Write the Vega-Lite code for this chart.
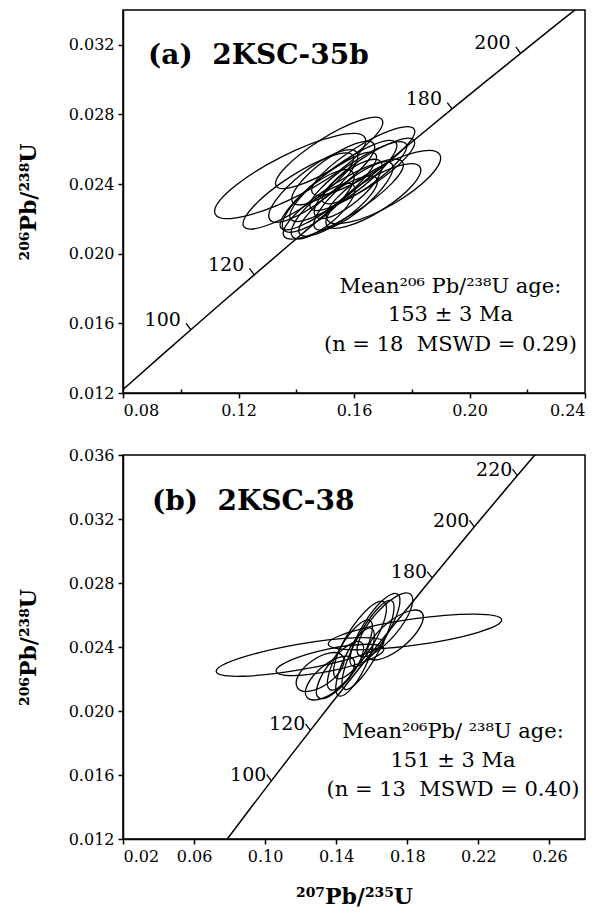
{
  "$schema": "https://vega.github.io/schema/vega-lite/v6.json",
  "background": "white",
  "padding": {"left": 16, "top": 9, "right": 0, "bottom": 0},
  "spacing": 27,
  "config": {
    "font": "DejaVu Serif",
    "view": {"stroke": "black", "strokeWidth": 1.5},
    "axis": {
      "grid": false,
      "domainColor": "black",
      "domainWidth": 1.5,
      "tickColor": "black",
      "tickWidth": 1.5,
      "labelFont": "DejaVu Serif",
      "labelFontSize": 16,
      "labelColor": "black",
      "labelPadding": 4,
      "titleFont": "DejaVu Serif",
      "titleFontWeight": "bold",
      "titleFontSize": 22,
      "titleColor": "black"
    }
  },
  "datasets": {
    "concordia": [
      {"age": 70, "pb207u235": 0.071371, "pb206u238": 0.010918},
      {"age": 80, "pb207u235": 0.081975, "pb206u238": 0.012487},
      {"age": 90, "pb207u235": 0.092683, "pb206u238": 0.014059},
      {"age": 100, "pb207u235": 0.103497, "pb206u238": 0.015633},
      {"age": 110, "pb207u235": 0.114419, "pb206u238": 0.017210},
      {"age": 120, "pb207u235": 0.125449, "pb206u238": 0.018789},
      {"age": 130, "pb207u235": 0.136588, "pb206u238": 0.020371},
      {"age": 140, "pb207u235": 0.147837, "pb206u238": 0.021955},
      {"age": 150, "pb207u235": 0.159197, "pb206u238": 0.023542},
      {"age": 160, "pb207u235": 0.170670, "pb206u238": 0.025131},
      {"age": 170, "pb207u235": 0.182256, "pb206u238": 0.026722},
      {"age": 180, "pb207u235": 0.193957, "pb206u238": 0.028316},
      {"age": 190, "pb207u235": 0.205774, "pb206u238": 0.029912},
      {"age": 200, "pb207u235": 0.217707, "pb206u238": 0.031511},
      {"age": 210, "pb207u235": 0.229759, "pb206u238": 0.033112},
      {"age": 220, "pb207u235": 0.241930, "pb206u238": 0.034717},
      {"age": 230, "pb207u235": 0.254222, "pb206u238": 0.036323},
      {"age": 240, "pb207u235": 0.266635, "pb206u238": 0.037932}
    ],
    "ellipsesA": [
      {"spot": 1, "pb207u235": 0.1379, "pb206u238": 0.02446, "len": 0.0583, "ratio": "0.25", "tilt": 27},
      {"spot": 2, "pb207u235": 0.1514, "pb206u238": 0.02579, "len": 0.0433, "ratio": "0.25", "tilt": 32},
      {"spot": 3, "pb207u235": 0.1702, "pb206u238": 0.02383, "len": 0.0451, "ratio": "0.30", "tilt": 30},
      {"spot": 4, "pb207u235": 0.1650, "pb206u238": 0.02475, "len": 0.0381, "ratio": "0.25", "tilt": 34},
      {"spot": 5, "pb207u235": 0.1511, "pb206u238": 0.02360, "len": 0.0416, "ratio": "0.25", "tilt": 38},
      {"spot": 6, "pb207u235": 0.1563, "pb206u238": 0.02418, "len": 0.0451, "ratio": "0.25", "tilt": 36},
      {"spot": 7, "pb207u235": 0.1459, "pb206u238": 0.02389, "len": 0.0381, "ratio": "0.30", "tilt": 38},
      {"spot": 8, "pb207u235": 0.1598, "pb206u238": 0.02332, "len": 0.0347, "ratio": "0.30", "tilt": 40},
      {"spot": 9, "pb207u235": 0.1476, "pb206u238": 0.02303, "len": 0.0312, "ratio": "0.35", "tilt": 40},
      {"spot": 10, "pb207u235": 0.1545, "pb206u238": 0.02274, "len": 0.0329, "ratio": "0.30", "tilt": 36},
      {"spot": 11, "pb207u235": 0.1615, "pb206u238": 0.02446, "len": 0.0399, "ratio": "0.25", "tilt": 34},
      {"spot": 12, "pb207u235": 0.1407, "pb206u238": 0.02360, "len": 0.0451, "ratio": "0.25", "tilt": 33},
      {"spot": 13, "pb207u235": 0.1580, "pb206u238": 0.02372, "len": 0.0295, "ratio": "0.35", "tilt": 40},
      {"spot": 14, "pb207u235": 0.1528, "pb206u238": 0.02464, "len": 0.0347, "ratio": "0.30", "tilt": 36},
      {"spot": 15, "pb207u235": 0.1667, "pb206u238": 0.02332, "len": 0.0381, "ratio": "0.30", "tilt": 32},
      {"spot": 16, "pb207u235": 0.1493, "pb206u238": 0.02245, "len": 0.0277, "ratio": "0.35", "tilt": 40},
      {"spot": 17, "pb207u235": 0.1632, "pb206u238": 0.02533, "len": 0.0416, "ratio": "0.25", "tilt": 32},
      {"spot": 18, "pb207u235": 0.1563, "pb206u238": 0.02314, "len": 0.0485, "ratio": "0.25", "tilt": 32}
    ],
    "ellipsesB": [
      {"spot": 1, "pb207u235": 0.1196, "pb206u238": 0.02338, "len": 0.0957, "ratio": "0.15", "tilt": 10},
      {"spot": 2, "pb207u235": 0.1365, "pb206u238": 0.02319, "len": 0.0619, "ratio": "0.20", "tilt": 12},
      {"spot": 3, "pb207u235": 0.1843, "pb206u238": 0.02494, "len": 0.0985, "ratio": "0.15", "tilt": 8},
      {"spot": 4, "pb207u235": 0.1534, "pb206u238": 0.02444, "len": 0.0506, "ratio": "0.30", "tilt": 58},
      {"spot": 5, "pb207u235": 0.1477, "pb206u238": 0.02350, "len": 0.0450, "ratio": "0.30", "tilt": 60},
      {"spot": 6, "pb207u235": 0.1421, "pb206u238": 0.02256, "len": 0.0394, "ratio": "0.35", "tilt": 52},
      {"spot": 7, "pb207u235": 0.1618, "pb206u238": 0.02506, "len": 0.0478, "ratio": "0.30", "tilt": 58},
      {"spot": 8, "pb207u235": 0.1674, "pb206u238": 0.02538, "len": 0.0450, "ratio": "0.35", "tilt": 50},
      {"spot": 9, "pb207u235": 0.1365, "pb206u238": 0.02206, "len": 0.0338, "ratio": "0.45", "tilt": 40},
      {"spot": 10, "pb207u235": 0.1579, "pb206u238": 0.02413, "len": 0.0563, "ratio": "0.25", "tilt": 62},
      {"spot": 11, "pb207u235": 0.1731, "pb206u238": 0.02475, "len": 0.0394, "ratio": "0.40", "tilt": 40},
      {"spot": 12, "pb207u235": 0.1506, "pb206u238": 0.02306, "len": 0.0422, "ratio": "0.30", "tilt": 64},
      {"spot": 13, "pb207u235": 0.1309, "pb206u238": 0.02244, "len": 0.0310, "ratio": "0.50", "tilt": 35}
    ],
    "notes": [
      {"panel": "a", "kind": "title", "pb207u235": 0.0887, "pb206u238": 0.0309, "label": "(a) \u00a02KSC-35b"},
      {"panel": "a", "kind": "stat", "pb207u235": 0.1934, "pb206u238": 0.01774, "label": "Mean²⁰⁶ Pb/²³⁸U age:"},
      {"panel": "a", "kind": "stat", "pb207u235": 0.1934, "pb206u238": 0.01614, "label": "153 ± 3 Ma"},
      {"panel": "a", "kind": "stat", "pb207u235": 0.1934, "pb206u238": 0.01441, "label": "(n = 18 \u00a0MSWD = 0.29)"},
      {"panel": "b", "kind": "title", "pb207u235": 0.0363, "pb206u238": 0.03256, "label": "(b) \u00a02KSC-38"},
      {"panel": "b", "kind": "stat", "pb207u235": 0.2057, "pb206u238": 0.01831, "label": "Mean²⁰⁶Pb/ ²³⁸U age:"},
      {"panel": "b", "kind": "stat", "pb207u235": 0.2057, "pb206u238": 0.0165, "label": "151 ± 3 Ma"},
      {"panel": "b", "kind": "stat", "pb207u235": 0.2057, "pb206u238": 0.01469, "label": "(n = 13 \u00a0MSWD = 0.40)"}
    ]
  },
  "resolve": {"scale": {"x": "independent", "y": "independent", "size": "independent", "shape": "independent", "angle": "independent"}},
  "vconcat": [
    {
      "width": 462,
      "height": 383,
      "layer": [
        {
          "data": {"name": "concordia"},
          "mark": {"type": "line", "color": "black", "strokeWidth": 1.5, "clip": true},
          "encoding": {
            "x": {"field": "pb207u235", "type": "quantitative", "scale": {"domain": [0.08, 0.24], "nice": false, "zero": false},
              "axis": {"title": null, "values": [0.08, 0.10, 0.12, 0.14, 0.16, 0.18, 0.20, 0.22, 0.24],
                "labelExpr": "indexof(['0.08','0.12','0.16','0.20','0.24'], format(datum.value, '.2f')) >= 0 ? format(datum.value, '.2f') : ''",
                "tickSize": {"condition": {"test": "indexof(['0.08','0.12','0.16','0.20','0.24'], format(datum.value, '.2f')) < 0", "value": -4}, "value": 5}}},
            "y": {"field": "pb206u238", "type": "quantitative", "scale": {"domain": [0.012, 0.034], "nice": false, "zero": false},
              "axis": {"title": "²⁰⁶Pb/²³⁸U", "titlePadding": 28, "values": [0.012, 0.014, 0.016, 0.018, 0.020, 0.022, 0.024, 0.026, 0.028, 0.030, 0.032],
                "labelExpr": "indexof(['0.012','0.016','0.020','0.024','0.028','0.032'], format(datum.value, '.3f')) >= 0 ? format(datum.value, '.3f') : ''",
                "tickSize": {"condition": {"test": "indexof(['0.012','0.016','0.020','0.024','0.028','0.032'], format(datum.value, '.3f')) < 0", "value": -4}, "value": 5}}},
            "order": {"field": "age", "type": "quantitative"}
          }
        },
        {
          "data": {"name": "ellipsesA"},
          "mark": {"type": "point", "filled": false, "stroke": "black", "strokeWidth": 1.3, "opacity": 1},
          "encoding": {
            "x": {"field": "pb207u235", "type": "quantitative"},
            "y": {"field": "pb206u238", "type": "quantitative"},
            "size": {"field": "len", "type": "quantitative", "scale": {"type": "pow", "exponent": 2, "domain": [0, 0.1], "range": [0, 83175]}, "legend": null},
            "angle": {"field": "tilt", "type": "quantitative", "scale": {"domain": [0, 360], "range": [360, 0]}, "legend": null},
            "shape": {"field": "ratio", "type": "nominal", "legend": null,
              "scale": {"domain": ["0.15", "0.20", "0.25", "0.30", "0.35", "0.40", "0.45", "0.50"],
                "range": ["M-1,0A1,0.15,0,1,1,1,0A1,0.15,0,1,1,-1,0Z", "M-1,0A1,0.2,0,1,1,1,0A1,0.2,0,1,1,-1,0Z", "M-1,0A1,0.25,0,1,1,1,0A1,0.25,0,1,1,-1,0Z", "M-1,0A1,0.3,0,1,1,1,0A1,0.3,0,1,1,-1,0Z", "M-1,0A1,0.35,0,1,1,1,0A1,0.35,0,1,1,-1,0Z", "M-1,0A1,0.4,0,1,1,1,0A1,0.4,0,1,1,-1,0Z", "M-1,0A1,0.45,0,1,1,1,0A1,0.45,0,1,1,-1,0Z", "M-1,0A1,0.5,0,1,1,1,0A1,0.5,0,1,1,-1,0Z"]}}
          }
        },
        {
          "data": {"name": "concordia"},
          "transform": [{"filter": {"field": "age", "oneOf": [100, 120, 180, 200]}}],
          "mark": {"type": "point", "shape": "M0,0L-0.6,-0.8", "size": 256, "filled": false, "stroke": "black", "strokeWidth": 1.3, "opacity": 1},
          "encoding": {
            "x": {"field": "pb207u235", "type": "quantitative"},
            "y": {"field": "pb206u238", "type": "quantitative"}
          }
        },
        {
          "data": {"name": "concordia"},
          "transform": [{"filter": {"field": "age", "oneOf": [100, 120, 180, 200]}}],
          "mark": {"type": "text", "align": "right", "baseline": "alphabetic", "dx": -10, "dy": -4, "fontSize": 19, "color": "black"},
          "encoding": {
            "x": {"field": "pb207u235", "type": "quantitative"},
            "y": {"field": "pb206u238", "type": "quantitative"},
            "text": {"field": "age", "type": "quantitative"}
          }
        },
        {
          "data": {"name": "notes"},
          "transform": [{"filter": "datum.panel === 'a' && datum.kind === 'title'"}],
          "mark": {"type": "text", "align": "left", "baseline": "alphabetic", "fontSize": 28, "fontWeight": "bold", "color": "black"},
          "encoding": {
            "x": {"field": "pb207u235", "type": "quantitative"},
            "y": {"field": "pb206u238", "type": "quantitative"},
            "text": {"field": "label"}
          }
        },
        {
          "data": {"name": "notes"},
          "transform": [{"filter": "datum.panel === 'a' && datum.kind === 'stat'"}],
          "mark": {"type": "text", "align": "center", "baseline": "alphabetic", "fontSize": 21, "color": "black"},
          "encoding": {
            "x": {"field": "pb207u235", "type": "quantitative"},
            "y": {"field": "pb206u238", "type": "quantitative"},
            "text": {"field": "label"}
          }
        }
      ]
    },
    {
      "width": 462,
      "height": 384,
      "layer": [
        {
          "data": {"name": "concordia"},
          "mark": {"type": "line", "color": "black", "strokeWidth": 1.5, "clip": true},
          "encoding": {
            "x": {"field": "pb207u235", "type": "quantitative", "scale": {"domain": [0.02, 0.28], "nice": false, "zero": false},
              "axis": {"title": "²⁰⁷Pb/²³⁵U", "titlePadding": 22, "values": [0.02, 0.06, 0.10, 0.14, 0.18, 0.22, 0.26], "format": ".2f", "tickSize": 5}},
            "y": {"field": "pb206u238", "type": "quantitative", "scale": {"domain": [0.012, 0.036], "nice": false, "zero": false},
              "axis": {"title": "²⁰⁶Pb/²³⁸U", "titlePadding": 28, "values": [0.012, 0.016, 0.020, 0.024, 0.028, 0.032, 0.036], "format": ".3f", "tickSize": 5}},
            "order": {"field": "age", "type": "quantitative"}
          }
        },
        {
          "data": {"name": "ellipsesB"},
          "mark": {"type": "point", "filled": false, "stroke": "black", "strokeWidth": 1.3, "opacity": 1},
          "encoding": {
            "x": {"field": "pb207u235", "type": "quantitative"},
            "y": {"field": "pb206u238", "type": "quantitative"},
            "size": {"field": "len", "type": "quantitative", "scale": {"type": "pow", "exponent": 2, "domain": [0, 0.1], "range": [0, 31577]}, "legend": null},
            "angle": {"field": "tilt", "type": "quantitative", "scale": {"domain": [0, 360], "range": [360, 0]}, "legend": null},
            "shape": {"field": "ratio", "type": "nominal", "legend": null,
              "scale": {"domain": ["0.15", "0.20", "0.25", "0.30", "0.35", "0.40", "0.45", "0.50"],
                "range": ["M-1,0A1,0.15,0,1,1,1,0A1,0.15,0,1,1,-1,0Z", "M-1,0A1,0.2,0,1,1,1,0A1,0.2,0,1,1,-1,0Z", "M-1,0A1,0.25,0,1,1,1,0A1,0.25,0,1,1,-1,0Z", "M-1,0A1,0.3,0,1,1,1,0A1,0.3,0,1,1,-1,0Z", "M-1,0A1,0.35,0,1,1,1,0A1,0.35,0,1,1,-1,0Z", "M-1,0A1,0.4,0,1,1,1,0A1,0.4,0,1,1,-1,0Z", "M-1,0A1,0.45,0,1,1,1,0A1,0.45,0,1,1,-1,0Z", "M-1,0A1,0.5,0,1,1,1,0A1,0.5,0,1,1,-1,0Z"]}}
          }
        },
        {
          "data": {"name": "concordia"},
          "transform": [{"filter": {"field": "age", "oneOf": [100, 120, 180, 200, 220]}}],
          "mark": {"type": "point", "shape": "M0,0L-0.6,-0.8", "size": 256, "filled": false, "stroke": "black", "strokeWidth": 1.3, "opacity": 1},
          "encoding": {
            "x": {"field": "pb207u235", "type": "quantitative"},
            "y": {"field": "pb206u238", "type": "quantitative"}
          }
        },
        {
          "data": {"name": "concordia"},
          "transform": [{"filter": {"field": "age", "oneOf": [100, 120, 180, 200, 220]}}],
          "mark": {"type": "text", "align": "right", "baseline": "alphabetic", "dx": -5, "dy": 0, "fontSize": 19, "color": "black"},
          "encoding": {
            "x": {"field": "pb207u235", "type": "quantitative"},
            "y": {"field": "pb206u238", "type": "quantitative"},
            "text": {"field": "age", "type": "quantitative"}
          }
        },
        {
          "data": {"name": "notes"},
          "transform": [{"filter": "datum.panel === 'b' && datum.kind === 'title'"}],
          "mark": {"type": "text", "align": "left", "baseline": "alphabetic", "fontSize": 28, "fontWeight": "bold", "color": "black"},
          "encoding": {
            "x": {"field": "pb207u235", "type": "quantitative"},
            "y": {"field": "pb206u238", "type": "quantitative"},
            "text": {"field": "label"}
          }
        },
        {
          "data": {"name": "notes"},
          "transform": [{"filter": "datum.panel === 'b' && datum.kind === 'stat'"}],
          "mark": {"type": "text", "align": "center", "baseline": "alphabetic", "fontSize": 21, "color": "black"},
          "encoding": {
            "x": {"field": "pb207u235", "type": "quantitative"},
            "y": {"field": "pb206u238", "type": "quantitative"},
            "text": {"field": "label"}
          }
        }
      ]
    }
  ]
}
